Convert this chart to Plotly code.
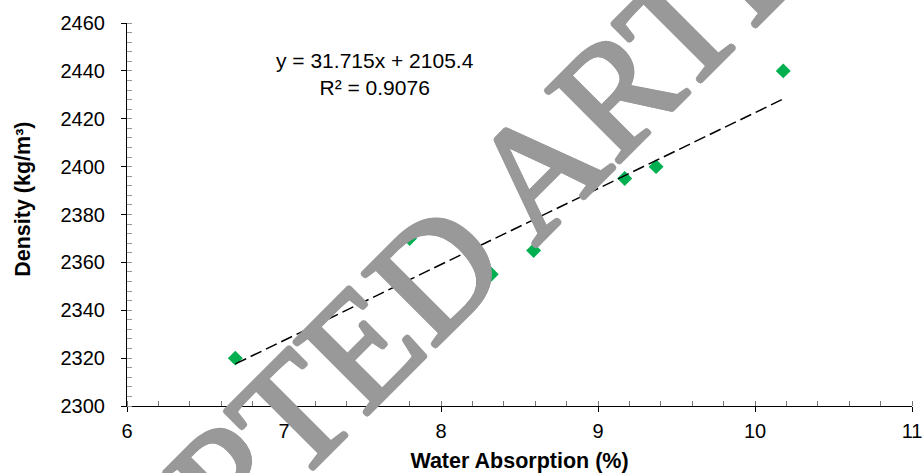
import plotly.graph_objects as go

# ---- data ----
water_absorption = [6.69, 7.80, 8.32, 8.59, 9.17, 9.37, 10.18]   # %
density = [2320, 2370, 2355, 2365, 2395, 2400, 2440]              # kg/m3

trend_slope = 31.715
trend_intercept = 2105.4
trend_r2 = 0.9076

x_ticks = [6, 7, 8, 9, 10, 11]
y_ticks = [2300, 2320, 2340, 2360, 2380, 2400, 2420, 2440, 2460]

watermark_text = "ACCEPTED ARTICLE"

# ---- figure ----
fig = go.Figure()

fig.add_trace(go.Scatter(
    x=water_absorption, y=density, mode="markers",
    marker=dict(symbol="diamond", size=11.5, color="#00B050", line=dict(width=0)),
    showlegend=False, hoverinfo="skip",
))

trend_x = [min(water_absorption), max(water_absorption)]
trend_y = [trend_slope * v + trend_intercept for v in trend_x]
fig.add_trace(go.Scatter(
    x=trend_x, y=trend_y, mode="lines",
    line=dict(color="black", width=1.5, dash="12px,5px"),
    showlegend=False, hoverinfo="skip",
))

font_family = "Liberation Sans, Arial, sans-serif"
wm_grey = "#999999"
wm_shadow = ", ".join("%spx %spx 0 %s" % (dx, dy, wm_grey) for dx, dy in
                      [(2, 0), (-2, 0), (0, 2), (0, -2),
                       (1.4, 1.4), (-1.4, -1.4), (1.4, -1.4), (-1.4, 1.4)])

fig.update_layout(
    width=923, height=473,
    margin=dict(l=127, r=11, t=23, b=67, pad=0),
    paper_bgcolor="white", plot_bgcolor="white",
    font=dict(family=font_family, color="black"),
    showlegend=False,
    xaxis=dict(
        range=[6, 11], tickmode="array", tickvals=x_ticks,
        ticktext=[str(v) for v in x_ticks],
        ticks="outside", ticklen=5, tickwidth=1, tickcolor="black",
        showline=True, linecolor="black", linewidth=1,
        showgrid=False, zeroline=False,
        tickfont=dict(family=font_family, size=20, color="black"),
        ticklabelstandoff=2,
        minor=dict(dtick=0.2, tick0=6, ticks="inside", ticklen=5,
                   tickwidth=1, tickcolor="#777777", showgrid=False),
        title=dict(text="<b>Water Absorption (%)</b>",
                   font=dict(family=font_family, size=21.5, color="black"),
                   standoff=14),
        automargin=False,
    ),
    yaxis=dict(
        range=[2300, 2460], tickmode="array", tickvals=y_ticks,
        ticktext=[str(v) for v in y_ticks],
        ticks="outside", ticklen=5, tickwidth=1, tickcolor="black",
        showline=True, linecolor="black", linewidth=1,
        showgrid=False, zeroline=False,
        tickfont=dict(family=font_family, size=20, color="black"),
        ticklabelstandoff=12,
        minor=dict(dtick=4, tick0=2300, ticks="inside", ticklen=5,
                   tickwidth=1, tickcolor="#999999", showgrid=False),
        automargin=False,
    ),
    annotations=[
        dict(text="y = %.3fx + %.1f<br>R² = %.4f" % (trend_slope, trend_intercept, trend_r2),
             xref="paper", yref="paper", x=0.3162, y=0.866,
             xanchor="center", yanchor="middle", showarrow=False, align="center",
             font=dict(family=font_family, size=21, color="black")),
        dict(text="<b>Density (kg/m³)</b>",
             xref="paper", yref="paper", x=-0.1318, y=0.5397,
             xanchor="center", yanchor="middle", showarrow=False, textangle=-90,
             font=dict(family=font_family, size=21.5, color="black")),
        dict(text=watermark_text,
             xref="paper", yref="paper", x=0.3858, y=0.3394,
             xanchor="center", yanchor="middle", showarrow=False, textangle=-45,
             font=dict(family="Liberation Serif, Times New Roman, serif", size=158,
                       color=wm_grey, shadow=wm_shadow)),
    ],
)

fig.write_html("out.html")
